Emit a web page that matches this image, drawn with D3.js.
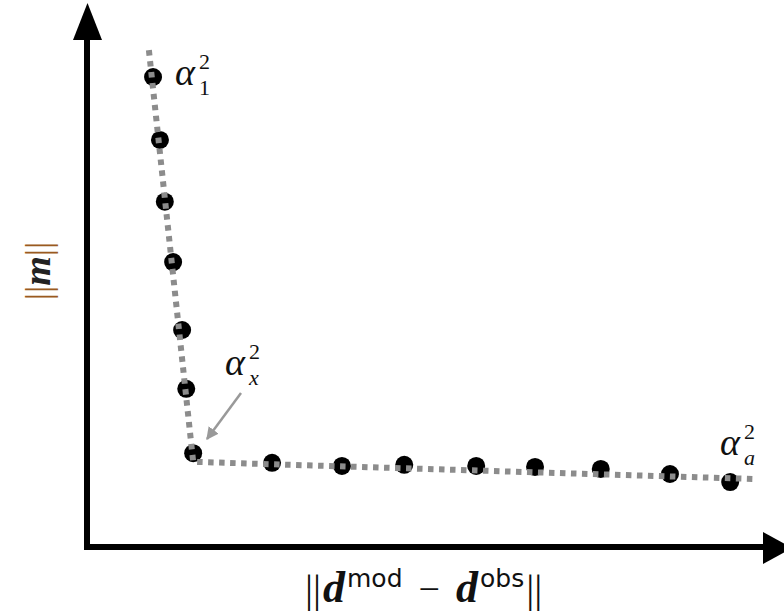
<!DOCTYPE html>
<html>
<head>
<meta charset="utf-8">
<script src="https://cdn.jsdelivr.net/npm/d3@7"></script>
<style>
  body { margin: 0; background: #fff; }
</style>
</head>
<body>
<svg id="chart" width="784" height="615"></svg>
<script>
// L-curve samples (arbitrary units, residual norm vs model norm)
let residualNorm = [9.4, 10.4, 11.1, 12.3, 13.6, 14.2, 15.2, 26.6, 36.7, 45.7, 56.1, 64.6, 74.1, 84.1, 92.8];
let modelNorm = [92.7, 80.3, 68.1, 56.2, 42.8, 31.2, 18.5, 16.6, 16.0, 16.2, 16.0, 15.8, 15.4, 14.4, 12.8];
// fitted two-segment line
let fitX = [8.8, 15.2, 96.5];
let fitY = [98.0, 16.8, 13.4];

let svg = d3.select("#chart");

let x = d3.scaleLinear().domain([0, 100]).range([88, 780]);
let y = d3.scaleLinear().domain([0, 100]).range([547, 40]);

// axes with arrow heads
svg.append("line")
  .attr("x1", 87).attr("y1", 550)
  .attr("x2", 87).attr("y2", 38)
  .style("stroke", "black").style("stroke-width", 6);
svg.append("polygon")
  .attr("points", "73,40 102,40 87.5,3")
  .style("fill", "black");
svg.append("line")
  .attr("x1", 84).attr("y1", 547)
  .attr("x2", 766).attr("y2", 547)
  .style("stroke", "black").style("stroke-width", 6);
svg.append("polygon")
  .attr("points", "763,532 763,564 792,548")
  .style("fill", "black");

// points
svg.selectAll("circle.pt")
  .data(residualNorm)
  .enter()
  .append("circle")
  .attr("class", "pt")
  .attr("cx", d => x(d))
  .attr("cy", (d, i) => y(modelNorm[i]))
  .attr("r", 9)
  .style("fill", "black");

// dotted fit line on top of the points
let line = d3.line()
  .x(d => x(d[0]))
  .y(d => y(d[1]));
svg.append("path")
  .attr("d", line(fitX.map((d, i) => [d, fitY[i]])))
  .style("fill", "none")
  .style("stroke", "#8c8c8c")
  .style("stroke-width", 6)
  .style("stroke-dasharray", "5.5,5.5");

// annotation arrow for alpha_x
svg.append("defs").append("marker")
  .attr("id", "head")
  .attr("viewBox", "0 0 10 10")
  .attr("refX", 9).attr("refY", 5)
  .attr("markerWidth", 5).attr("markerHeight", 5)
  .attr("orient", "auto")
  .append("path")
  .attr("d", "M0,0 L10,5 L0,10 Z")
  .style("fill", "#999");
svg.append("line")
  .attr("x1", 241).attr("y1", 393)
  .attr("x2", 207).attr("y2", 439)
  .style("stroke", "#999")
  .style("stroke-width", 2.5)
  .attr("marker-end", "url(#head)");

// alpha labels: base glyph, superscript and subscript as separate texts
function alphaLabel(px, py, sub) {
  let font = "'Liberation Serif', 'DejaVu Serif', serif";
  svg.append("text")
    .attr("x", px).attr("y", py)
    .text("α")
    .style("font-family", font)
    .style("font-style", "italic")
    .style("font-size", 38)
    .style("fill", "#111");
  svg.append("text")
    .attr("x", px + 24).attr("y", py - 16)
    .text("2")
    .style("font-family", font)
    .style("font-size", 22)
    .style("fill", "#111");
  svg.append("text")
    .attr("x", px + 24).attr("y", py + 10)
    .text(sub)
    .style("font-family", font)
    .style("font-size", 22)
    .style("font-style", sub == "1" ? "normal" : "italic")
    .style("fill", "#111");
}
alphaLabel(175, 85, "1");
alphaLabel(225, 375, "x");
alphaLabel(720, 455, "a");

// x axis label
let xl = svg.append("text")
  .attr("x", 305).attr("y", 602)
  .style("font-family", "'Liberation Serif', serif")
  .style("fill", "#111");
xl.append("tspan").text("||").style("font-size", 40);
xl.append("tspan").text("d")
  .attr("dx", 2)
  .style("font-size", 44).style("font-style", "italic").style("font-weight", "bold");
xl.append("tspan").text("mod")
  .attr("dx", 2).attr("dy", -15)
  .style("font-family", "'DejaVu Sans', sans-serif").style("font-size", 25);
xl.append("tspan").text("−")
  .attr("dx", 16).attr("dy", 15)
  .style("font-size", 38);
xl.append("tspan").text("d")
  .attr("dx", 16)
  .style("font-size", 44).style("font-style", "italic").style("font-weight", "bold");
xl.append("tspan").text("obs")
  .attr("dx", 2).attr("dy", -15)
  .style("font-family", "'DejaVu Sans', sans-serif").style("font-size", 25);
xl.append("tspan").text("||")
  .attr("dx", 2).attr("dy", 15)
  .style("font-size", 40);

// y axis label
let yl = svg.append("text")
  .attr("transform", "translate(50,271)rotate(-90)")
  .style("text-anchor", "middle")
  .style("font-family", "'Liberation Serif', serif")
  .style("fill", "#9a5a20");
yl.append("tspan").text("||").style("font-size", 36);
yl.append("tspan").text("m")
  .style("font-size", 38).style("font-style", "italic").style("font-weight", "bold")
  .style("fill", "#222");
yl.append("tspan").text("||").style("font-size", 36);
</script>
</body>
</html>
